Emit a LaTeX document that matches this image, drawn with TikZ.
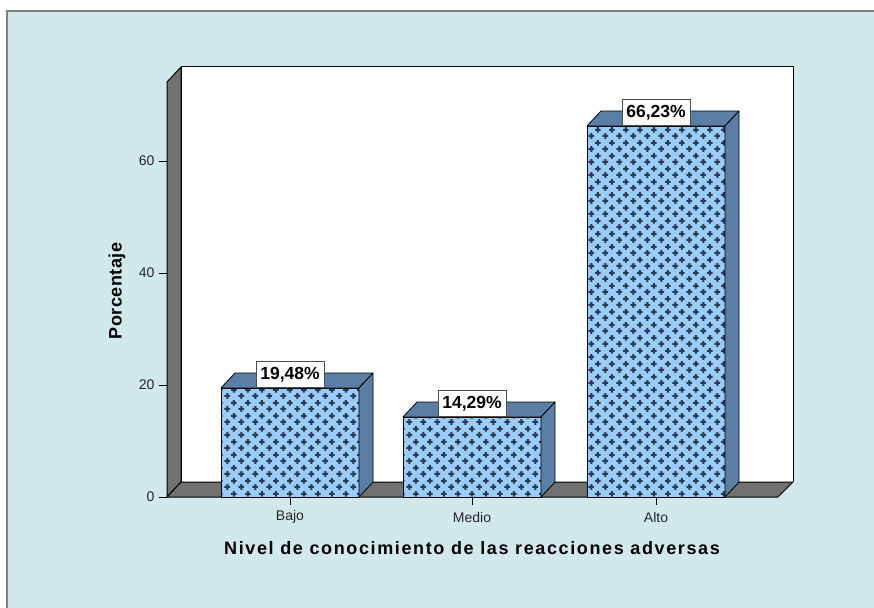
\documentclass[tikz,border=0pt]{standalone}
\usepackage{fontspec}
\setmainfont{Liberation Sans}
\usetikzlibrary{patterns}

\definecolor{panel}{HTML}{D2E9EB}
\definecolor{framegray}{HTML}{7F7F7F}
\definecolor{wallgray}{HTML}{717171}
\definecolor{barfront}{HTML}{99CCFF}
\definecolor{barside}{HTML}{5B7FA4}
\definecolor{crossdark}{HTML}{2B3A4C}
\definecolor{ticktext}{HTML}{262626}

\pgfdeclarepatternformonly{pluses}{\pgfpoint{0pt}{0pt}}{\pgfpoint{14pt}{13pt}}{\pgfpoint{14pt}{13pt}}{
  \pgfpathrectangle{\pgfpoint{0.5pt}{2.15pt}}{\pgfpoint{6pt}{2.2pt}}
  \pgfpathrectangle{\pgfpoint{2.4pt}{0.25pt}}{\pgfpoint{2.2pt}{6pt}}
  \pgfpathrectangle{\pgfpoint{7.5pt}{8.65pt}}{\pgfpoint{6pt}{2.2pt}}
  \pgfpathrectangle{\pgfpoint{9.4pt}{6.75pt}}{\pgfpoint{2.2pt}{6pt}}
  \pgfusepath{fill}
}

\begin{document}
\begin{tikzpicture}[x=1pt,y=-1pt,
    front/.style={fill=barfront},
    crosses/.style={pattern=pluses,pattern color=crossdark},
    face/.style={fill=barside,draw=black,line width=0.8pt,line join=round},
    wall/.style={fill=wallgray,draw=black,line width=1pt,line join=round},
    valuebox/.style={draw=black!70,fill=white,line width=0.6pt,font=\bfseries\fontsize{17.5}{17.5}\selectfont,minimum width=68,minimum height=26,inner sep=1pt},
    ticklabel/.style={font=\fontsize{14}{14}\selectfont,text=ticktext},
    xtitlestyle/.style={font=\fontsize{18}{18}\selectfont\bfseries\addfontfeature{LetterSpace=9}},
    ytitlestyle/.style={font=\fontsize{18}{18}\selectfont\bfseries\addfontfeature{LetterSpace=3},rotate=90}]
  \useasboundingbox (0,0) rectangle (874,607);
  \clip (0,0) rectangle (874,607);
  \fill[white] (0,0) rectangle (874,607);
  \draw[framegray,fill=panel,line width=1.5pt] (7,11) rectangle (890,620);

  \draw[fill=white,draw=black,line width=1pt] (181,482) -- (181,67) -- (793,67) -- (793,482);
  \draw[wall] (167,497) -- (167,82) -- (181,67) -- (181,482) -- cycle;
  \draw[wall] (167,497) -- (778,497) -- (793,482) -- (181,482) -- cycle;

  \draw[line width=0.8pt] (159,497) -- (167,497);
  \draw[line width=0.8pt] (159,385) -- (167,385);
  \draw[line width=0.8pt] (159,273) -- (167,273);
  \draw[line width=0.8pt] (159,161) -- (167,161);
  \draw (158,497) node [ticklabel,anchor=east] (y0) {0};
  \draw (158,385) node [ticklabel,anchor=east] (y20) {20};
  \draw (158,273) node [ticklabel,anchor=east] (y40) {40};
  \draw (158,161) node [ticklabel,anchor=east] (y60) {60};

  \fill[front] (221,497) rectangle (359,388);
  \fill[crosses] (221,497) rectangle (359,388);
  \draw[line width=0.8pt] (221,497) rectangle (359,388);
  \draw[face] (221,388) -- (235,373) -- (373,373) -- (359,388) -- cycle;
  \draw[face] (359,388) -- (373,373) -- (373,482) -- (359,497) -- cycle;

  \fill[front] (403,497) rectangle (541,417);
  \fill[crosses] (403,497) rectangle (541,417);
  \draw[line width=0.8pt] (403,497) rectangle (541,417);
  \draw[face] (403,417) -- (417,402) -- (555,402) -- (541,417) -- cycle;
  \draw[face] (541,417) -- (555,402) -- (555,482) -- (541,497) -- cycle;

  \fill[front] (587,497) rectangle (725,126);
  \fill[crosses] (587,497) rectangle (725,126);
  \draw[line width=0.8pt] (587,497) rectangle (725,126);
  \draw[face] (587,126) -- (601,111) -- (739,111) -- (725,126) -- cycle;
  \draw[face] (725,126) -- (739,111) -- (739,482) -- (725,497) -- cycle;

  \draw (290,388) node [valuebox,anchor=south] (bajo) {19,48\%};
  \draw (472,417) node [valuebox,anchor=south] (medio) {14,29\%};
  \draw (656,126) node [valuebox,anchor=south] (alto) {66,23\%};

  \draw[line width=0.8pt] (290,497) -- (290,505);
  \draw[line width=0.8pt] (472,497) -- (472,505);
  \draw[line width=0.8pt] (656,497) -- (656,505);
  \draw (290,517) node [ticklabel] (xbajo) {Bajo};
  \draw (472,517) node [ticklabel] (xmedio) {Medio};
  \draw (656,517) node [ticklabel] (xalto) {Alto};

  \draw (472,548) node [xtitlestyle] (xtitle) {Nivel de conocimiento de las reacciones adversas};
  \draw (117,291) node [ytitlestyle] (ytitle) {Porcentaje};
\end{tikzpicture}
\end{document}
